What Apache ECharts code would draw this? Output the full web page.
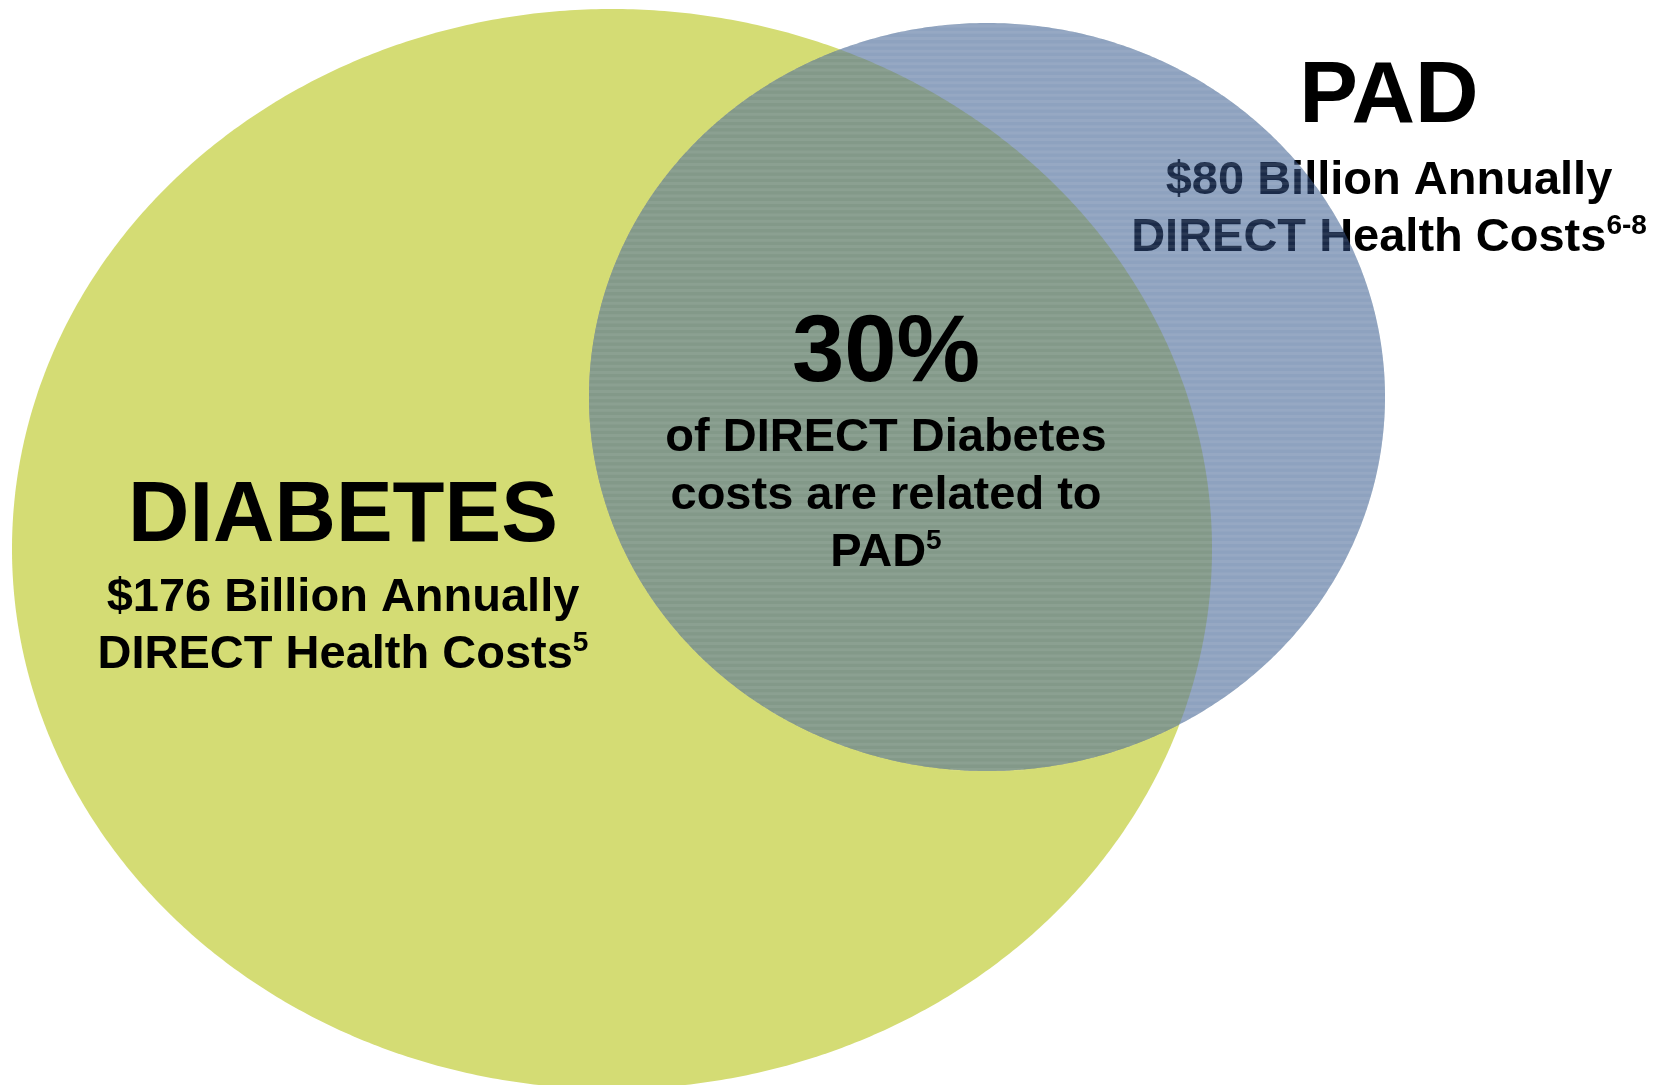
<!DOCTYPE html>
<html>
<head>
<meta charset="utf-8">
<title>Diabetes and PAD direct health costs</title>
<style>
  html, body { margin: 0; padding: 0; background: #fff; }
  #main { width: 1674px; height: 1085px; }
</style>
</head>
<body>
<div id="main"></div>
<script src="https://cdn.jsdelivr.net/npm/echarts@6/dist/echarts.min.js"></script>
<script>
// --- data ---
var setNames = ['DIABETES', 'PAD'];
var annualCostBn = [176, 80];          // $ billion per year, direct health costs
var costRefs = ['5', '6-8'];
var sharePct = 30;                      // % of direct diabetes costs related to PAD
var shareRef = '5';

// --- layout (chart units: x to the right, y downward) ---
var shapes = [
  { cx: 612, cy: 549, rx: 600, ry: 540 },
  { cx: 987, cy: 397, rx: 398, ry: 374 }
];
var labelPos = [
  { x: 343, title: 518, line1: 598, line2: 655, titleSize: 85 },
  { x: 1389, title: 98, line1: 181, line2: 238, titleSize: 88 }
];
var sharePos = { x: 886, big: 355, lines: [438, 496, 553] };

var FONT = '"Liberation Sans", Arial, Helvetica, sans-serif';

function ellipsePts(e, n) {
  var pts = [];
  for (var i = 0; i < n; i++) {
    var t = i / n * Math.PI * 2;
    pts.push([e.cx + e.rx * Math.cos(t), e.cy + e.ry * Math.sin(t)]);
  }
  return pts;
}
function inside(e, p) {
  var dx = (p[0] - e.cx) / e.rx, dy = (p[1] - e.cy) / e.ry;
  return dx * dx + dy * dy <= 1;
}
function overlapPts(a, b) {
  var pts = ellipsePts(a, 1440).filter(function (p) { return inside(b, p); })
    .concat(ellipsePts(b, 1440).filter(function (p) { return inside(a, p); }));
  var mx = 0, my = 0;
  pts.forEach(function (p) { mx += p[0]; my += p[1]; });
  mx /= pts.length; my /= pts.length;
  pts.sort(function (p, q) {
    return Math.atan2(p[1] - my, p[0] - mx) - Math.atan2(q[1] - my, q[0] - mx);
  });
  return pts;
}

function txt(api, x, y, text, size, rich) {
  var c = api.coord([x, y]);
  return {
    type: 'text', x: c[0], y: c[1],
    style: {
      text: text, fill: '#000', align: 'center', verticalAlign: 'middle',
      font: 'bold ' + size + 'px ' + FONT,
      rich: rich || {}
    }
  };
}
function costRich(size) {
  return {
    m: { fontFamily: FONT, fontWeight: 'bold', fontSize: size, lineHeight: size * 1.1, fill: '#000' },
    s: { fontFamily: FONT, fontWeight: 'bold', fontSize: Math.round(size * 0.6), verticalAlign: 'top', lineHeight: size * 1.1, fill: '#000' }
  };
}

function setLabel(api, i) {
  var p = labelPos[i];
  return [
    txt(api, p.x, p.title, setNames[i], p.titleSize),
    txt(api, p.x, p.line1, '$' + annualCostBn[i] + ' Billion Annually', 47),
    txt(api, p.x, p.line2, '{m|DIRECT Health Costs}{s|' + costRefs[i] + '}', 47, costRich(47))
  ];
}

function poly(api, pts, fill) {
  return {
    type: 'polygon',
    shape: { points: pts.map(function (p) { return api.coord(p); }) },
    style: { fill: fill }
  };
}

// faint horizontal banding inside the PAD ellipse
function stripes(api, e) {
  var out = [];
  for (var y = e.cy - e.ry + 3; y < e.cy + e.ry; y += 6.3) {
    var dy = (y - e.cy) / e.ry;
    var half = e.rx * Math.sqrt(Math.max(0, 1 - dy * dy));
    var a = api.coord([e.cx - half, y]), b = api.coord([e.cx + half, y]);
    out.push({
      type: 'line',
      shape: { x1: a[0], y1: a[1], x2: b[0], y2: b[1] },
      style: { stroke: 'rgba(255,255,255,0.07)', lineWidth: 3 }
    });
  }
  return out;
}

function renderVenn(params, api) {
  var kids = [];
  // base fills
  kids.push(poly(api, ellipsePts(shapes[0], 720), '#d4dc74'));
  kids.push(poly(api, ellipsePts(shapes[1], 720), 'rgb(166,173,171)'));
  kids.push(poly(api, overlapPts(shapes[0], shapes[1]), 'rgb(151,159,94)'));
  // PAD caption sits under the translucent PAD layer
  kids = kids.concat(setLabel(api, 1));
  kids.push(poly(api, ellipsePts(shapes[1], 720), 'rgba(87,140,240,0.3)'));
  kids = kids.concat(stripes(api, shapes[1]));
  // remaining captions on top
  kids = kids.concat(setLabel(api, 0));
  kids.push(txt(api, sharePos.x, sharePos.big, sharePct + '%', 94));
  var lines = ['of DIRECT Diabetes', 'costs are related to', '{m|PAD}{s|' + shareRef + '}'];
  lines.forEach(function (l, k) {
    kids.push(txt(api, sharePos.x, sharePos.lines[k], l, 47, costRich(47)));
  });
  return { type: 'group', children: kids };
}

var myChart = echarts.init(document.getElementById('main'));
var option = {
  backgroundColor: '#ffffff',
  animation: false,
  grid: { left: 0, right: 0, top: 0, bottom: 0 },
  xAxis: { type: 'value', min: 0, max: 1674, show: false },
  yAxis: { type: 'value', min: 0, max: 1085, inverse: true, show: false },
  series: [{
    type: 'custom',
    coordinateSystem: 'cartesian2d',
    clip: false,
    renderItem: renderVenn,
    data: [[0, 0]]
  }]
};
myChart.setOption(option);
</script>
</body>
</html>
